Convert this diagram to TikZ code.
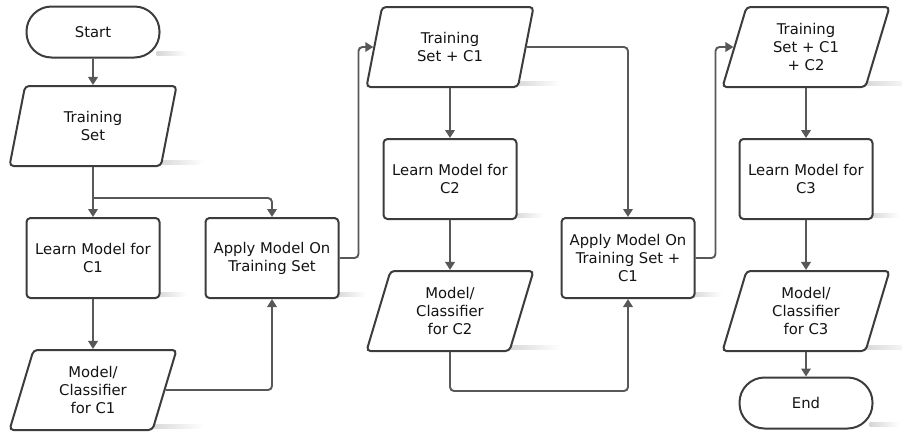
\documentclass[tikz,border=0pt]{standalone}
\usepackage{fontspec}
\setmainfont{DejaVu Sans}
\usetikzlibrary{shapes.geometric,arrows.meta,calc,backgrounds}
\definecolor{edgegray}{HTML}{3C3C3C}
\definecolor{wiregray}{HTML}{585858}
\let\shd\undefined
\newcommand{\shd}[2]{\shade[left color=black!16,right color=white] ($(#1)+(-4,-3)$) rectangle ($(#2 |- #1)+(26,-7)$);}

\begin{document}
\begin{tikzpicture}[x=1pt,y=-1pt,
  base/.style={draw=edgegray,line width=2pt,fill=white,text=black!92,align=center,
    font=\fontsize{14.8}{18}\selectfont,inner sep=2pt},
  termbox/.style={base,rectangle,rounded corners=25pt,minimum width=133pt,minimum height=51pt},
  procbox/.style={base,rectangle,rounded corners=4pt,minimum width=133pt,minimum height=80pt},
  databox/.style={base,trapezium,trapezium left angle=65,trapezium right angle=115,
    trapezium stretches body,rounded corners=4pt,minimum width=167pt,minimum height=80pt},
  wire/.style={draw=wiregray,line width=1.9pt,rounded corners=4pt,-{Triangle[length=8pt,width=9.5pt]}}]
  \useasboundingbox (0,0) rectangle (902,432);
  % first column
  \node[termbox] (start) at (93,32) {Start};
  \node[databox] (ts) at (93,126) {Training\\Set};
  \node[procbox] (learn1) at (93,258) {Learn Model for\\C1};
  \node[procbox] (apply1) at (272,258) {Apply Model On\\Training Set};
  \node[databox] (mc1) at (93,390) {Model/\\Classifier\\for C1};
  % second column
  \node[databox] (ts1) at (450,47) {Training\\Set + C1};
  \node[procbox] (learn2) at (450,179) {Learn Model for\\C2};
  \node[databox] (mc2) at (450,311) {Model/\\Classifier\\for C2};
  \node[procbox] (apply2) at (628,258) {Apply Model On\\Training Set +\\C1};
  % third column
  \node[databox] (ts2) at (806,47) {Training\\Set + C1\\+ C2};
  \node[procbox] (learn3) at (806,179) {Learn Model for\\C3};
  \node[databox] (mc3) at (806,311) {Model/\\Classifier\\for C3};
  \node[termbox] (end) at (806,403) {End};
  \coordinate (split) at (93,198);
  \begin{scope}[on background layer]
    \shd{start.south east}{start.south east}
    \shd{ts.bottom right corner}{ts.top right corner}
    \shd{learn1.south east}{learn1.south east}
    \shd{apply1.south east}{apply1.south east}
    \shd{mc1.bottom right corner}{mc1.top right corner}
    \shd{ts1.bottom right corner}{ts1.top right corner}
    \shd{learn2.south east}{learn2.south east}
    \shd{mc2.bottom right corner}{mc2.top right corner}
    \shd{apply2.south east}{apply2.south east}
    \shd{ts2.bottom right corner}{ts2.top right corner}
    \shd{learn3.south east}{learn3.south east}
    \shd{mc3.bottom right corner}{mc3.top right corner}
    \shd{end.south east}{end.south east}
  \end{scope}
  \draw[wire] (start.south) -- (ts.north);
  \draw[wire] (ts.south) -- (learn1.north);
  \draw[wire] (split) -| (apply1.north);
  \draw[wire] (learn1.south) -- (mc1.north);
  \draw[wire] (mc1.east) -| (apply1.south);
  \draw[wire] (apply1.east) -- ++(19,0) |- (ts1.west);
  \draw[wire] (ts1.south) -- (learn2.north);
  \draw[wire] (learn2.south) -- (mc2.north);
  \draw[wire] (ts1.east) -| (apply2.north);
  \draw[wire] (mc2.south) -- ++(0,39) -| (apply2.south);
  \draw[wire] (apply2.east) -- ++(20,0) |- (ts2.west);
  \draw[wire] (ts2.south) -- (learn3.north);
  \draw[wire] (learn3.south) -- (mc3.north);
  \draw[wire] (mc3.south) -- (end.north);
\end{tikzpicture}
\end{document}
